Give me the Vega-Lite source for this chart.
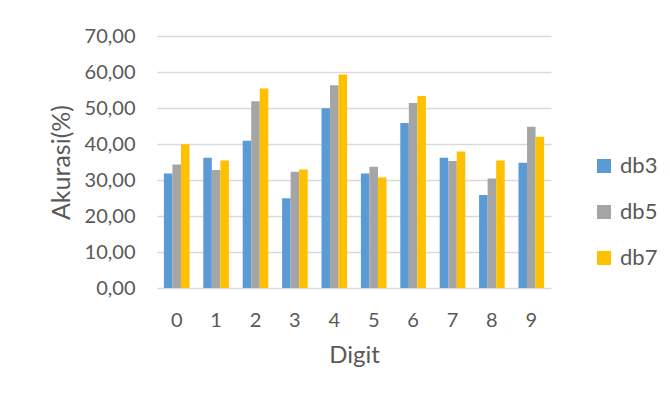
{
  "$schema": "https://vega.github.io/schema/vega-lite/v6.json",
  "autosize": "none",
  "width": 394,
  "height": 252,
  "padding": {"left": 157, "top": 36, "right": 119, "bottom": 117},
  "background": "white",
  "data": {
    "values": [
      {"digit": "0", "series": "db3", "value": 31.8},
      {"digit": "0", "series": "db5", "value": 34.3},
      {"digit": "0", "series": "db7", "value": 39.9},
      {"digit": "1", "series": "db3", "value": 36.2},
      {"digit": "1", "series": "db5", "value": 32.8},
      {"digit": "1", "series": "db7", "value": 35.4},
      {"digit": "2", "series": "db3", "value": 40.9},
      {"digit": "2", "series": "db5", "value": 51.9},
      {"digit": "2", "series": "db7", "value": 55.4},
      {"digit": "3", "series": "db3", "value": 24.9},
      {"digit": "3", "series": "db5", "value": 32.3},
      {"digit": "3", "series": "db7", "value": 32.9},
      {"digit": "4", "series": "db3", "value": 49.9},
      {"digit": "4", "series": "db5", "value": 56.3},
      {"digit": "4", "series": "db7", "value": 59.3},
      {"digit": "5", "series": "db3", "value": 31.8},
      {"digit": "5", "series": "db5", "value": 33.7},
      {"digit": "5", "series": "db7", "value": 30.7},
      {"digit": "6", "series": "db3", "value": 45.8},
      {"digit": "6", "series": "db5", "value": 51.4},
      {"digit": "6", "series": "db7", "value": 53.3},
      {"digit": "7", "series": "db3", "value": 36.2},
      {"digit": "7", "series": "db5", "value": 35.3},
      {"digit": "7", "series": "db7", "value": 37.9},
      {"digit": "8", "series": "db3", "value": 25.8},
      {"digit": "8", "series": "db5", "value": 30.4},
      {"digit": "8", "series": "db7", "value": 35.4},
      {"digit": "9", "series": "db3", "value": 34.8},
      {"digit": "9", "series": "db5", "value": 44.8},
      {"digit": "9", "series": "db7", "value": 42.0}
    ]
  },
  "mark": {"type": "bar"},
  "encoding": {
    "x": {
      "field": "digit",
      "type": "nominal",
      "scale": {"paddingInner": 0.35, "paddingOuter": 0.175},
      "axis": {
        "title": "Digit",
        "labelAngle": 0,
        "domain": false,
        "ticks": false,
        "labelPadding": 22,
        "labelFontSize": 20,
        "titleFontSize": 24,
        "titleFontWeight": "normal",
        "titlePadding": 13
      }
    },
    "xOffset": {"field": "series", "type": "nominal"},
    "y": {
      "field": "value",
      "type": "quantitative",
      "scale": {"domain": [0, 70], "nice": false},
      "axis": {
        "title": "Akurasi(%)",
        "values": [0, 10, 20, 30, 40, 50, 60, 70],
        "labelExpr": "replace(format(datum.value, '.2f'), '.', ',')",
        "domain": false,
        "ticks": false,
        "labelPadding": 22,
        "labelFontSize": 20,
        "titleFontSize": 25,
        "titleFontWeight": "normal",
        "titlePadding": 10,
        "grid": true,
        "gridColor": "#D9D9D9",
        "gridWidth": 1.3
      }
    },
    "color": {
      "field": "series",
      "type": "nominal",
      "scale": {"domain": ["db3", "db5", "db7"], "range": ["#5B9BD5", "#A5A5A5", "#FFC000"]},
      "legend": {
        "title": null,
        "orient": "none",
        "legendX": 436,
        "legendY": 119,
        "padding": 0,
        "symbolType": "square",
        "symbolSize": 196,
        "symbolStrokeWidth": 0,
        "labelFontSize": 22,
        "labelOffset": 5,
        "rowPadding": 24
      }
    }
  },
  "config": {
    "font": "Lato",
    "view": {"stroke": null},
    "axis": {"labelColor": "#595959", "titleColor": "#595959", "labelFont": "Lato", "titleFont": "Lato"},
    "legend": {"labelColor": "#595959", "labelFont": "Lato"}
  }
}
